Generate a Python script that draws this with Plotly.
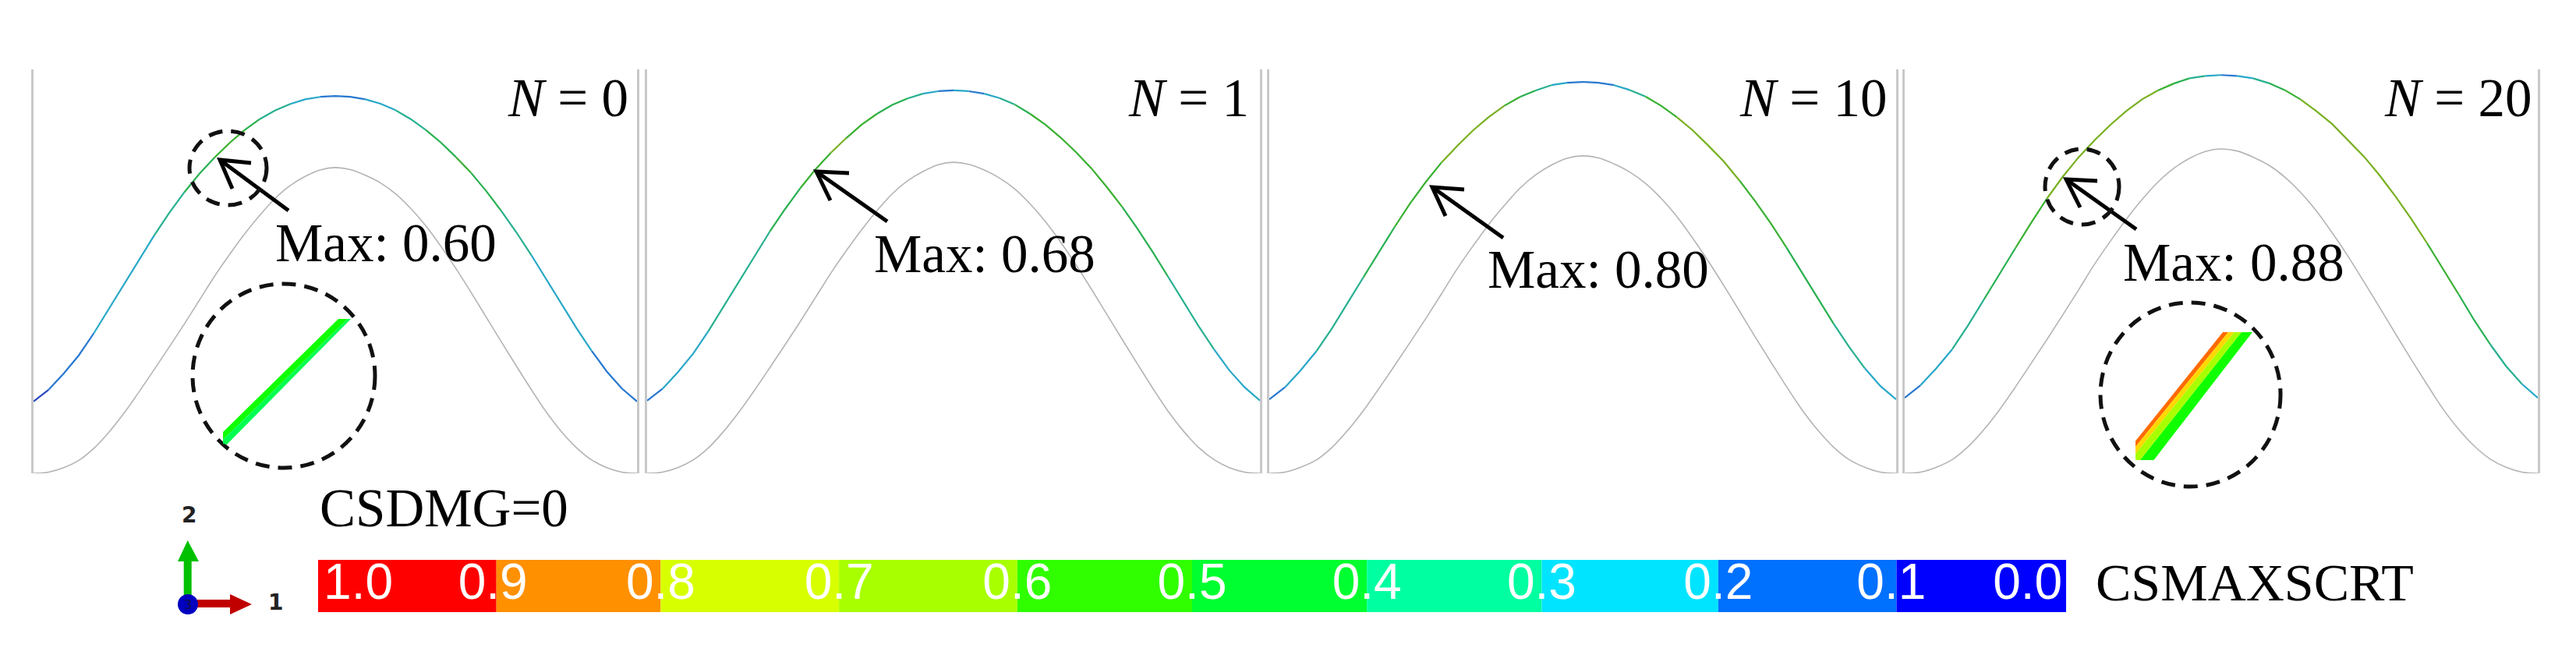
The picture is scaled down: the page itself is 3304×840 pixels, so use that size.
import plotly.graph_objects as go

W, H = 3304, 840

# position along the wave, percent of the panel width
x_pos = [0, 2.5, 5, 7.5, 10, 12.5, 15, 17.5, 20, 22.5, 25, 27.5, 30, 32.5, 35, 37.5, 40, 42.5, 45, 47.5, 50,
         52.5, 55, 57.5, 60, 62.5, 65, 67.5, 70, 72.5, 75, 77.5, 80, 82.5, 85, 87.5, 90, 92.5, 95, 97.5, 100]

# upper surface, percent of the panel height
upper_n0 = [17.8, 20.7, 24.7, 29.2, 34.7, 40.8, 46.8, 52.9, 58.9, 64.5, 69.6, 74.2, 78.2, 81.8, 85.0, 87.7, 89.8, 91.4, 92.6, 93.2, 93.4,
            93.2, 92.6, 91.5, 89.9, 87.7, 85.0, 81.9, 78.3, 74.4, 69.9, 65.0, 59.7, 54.0, 48.0, 42.0, 35.9, 30.3, 25.2, 21.0, 17.8]
upper_n1 = [18, 20.9, 25.0, 29.6, 35.2, 41.4, 47.5, 53.7, 59.8, 65.4, 70.6, 75.3, 79.4, 83.0, 86.3, 89.0, 91.2, 92.8, 94.0, 94.6, 94.8,
            94.6, 94.0, 92.9, 91.3, 89.0, 86.3, 83.1, 79.5, 75.5, 70.9, 66.0, 60.6, 54.8, 48.7, 42.6, 36.4, 30.7, 25.5, 21.3, 18]
upper_n10 = [18.3, 21.3, 25.5, 30.2, 35.9, 42.2, 48.5, 54.8, 61.0, 66.9, 72.2, 77.0, 81.1, 84.9, 88.2, 91.0, 93.2, 94.8, 96.1, 96.7, 96.9,
             96.7, 96.1, 94.9, 93.3, 91.0, 88.2, 85.0, 81.2, 77.2, 72.5, 67.4, 61.9, 55.9, 49.7, 43.5, 37.1, 31.3, 26.0, 21.6, 18.3]
upper_n20 = [18.7, 21.8, 26.0, 30.7, 36.6, 43.0, 49.4, 55.8, 62.1, 68.1, 73.5, 78.3, 82.5, 86.3, 89.7, 92.6, 94.8, 96.5, 97.8, 98.4, 98.6,
             98.4, 97.8, 96.6, 94.9, 92.6, 89.7, 86.5, 82.6, 78.5, 73.8, 68.6, 63.0, 57.0, 50.6, 44.3, 37.8, 31.9, 26.5, 22.1, 18.7]

# lower surface
lower_n0 = [0, .3, 1.4, 3.2, 6.2, 10.2, 14.9, 20.2, 25.7, 31.3, 37.0, 42.9, 48.8, 54.2, 59.3, 63.9, 68.0, 71.2, 73.5, 75.1, 75.7,
            75.2, 73.8, 71.9, 69.2, 65.6, 61.3, 56.2, 50.7, 44.8, 38.7, 32.6, 26.6, 20.7, 15.1, 10.3, 6.3, 3.3, 1.4, .3, 0]
lower_n1 = [0, .3, 1.4, 3.3, 6.3, 10.4, 15.2, 20.5, 26.1, 31.8, 37.6, 43.6, 49.6, 55.1, 60.3, 65.0, 69.2, 72.4, 74.7, 76.4, 77.0,
            76.5, 75.1, 73.1, 70.4, 66.7, 62.3, 57.2, 51.6, 45.6, 39.4, 33.2, 27.1, 21.1, 15.4, 10.5, 6.4, 3.4, 1.4, .3, 0]
lower_n10 = [0, .3, 1.5, 3.3, 6.4, 10.6, 15.5, 21.0, 26.7, 32.5, 38.4, 44.5, 50.7, 56.3, 61.6, 66.3, 70.6, 73.9, 76.3, 78.0, 78.6,
             78.1, 76.6, 74.6, 71.8, 68.1, 63.6, 58.3, 52.6, 46.5, 40.2, 33.8, 27.6, 21.5, 15.7, 10.7, 6.5, 3.4, 1.5, .3, 0]
lower_n20 = [0, .3, 1.5, 3.4, 6.6, 10.8, 15.8, 21.4, 27.3, 33.2, 39.3, 45.5, 51.8, 57.5, 62.9, 67.8, 72.1, 75.5, 78.0, 79.7, 80.3,
             79.8, 78.3, 76.3, 73.4, 69.6, 65.0, 59.6, 53.8, 47.5, 41.1, 34.6, 28.2, 22.0, 16.0, 10.9, 6.7, 3.5, 1.5, .3, 0]

# CSMAXSCRT along the upper surface
scrt_n0 = [.05, .1, .15, .18, .2, .22, .25, .28, .32, .36, .4, .48, .55, .5, .45, .38, .3, .25, .2, .15, .12,
           .15, .2, .25, .32, .38, .45, .48, .5, .45, .4, .35, .3, .28, .25, .23, .22, .18, .15, .1, .05]
scrt_n1 = [.15, .22, .25, .28, .3, .32, .35, .38, .42, .46, .52, .58, .62, .58, .55, .48, .42, .32, .25, .18, .22,
           .18, .25, .3, .42, .5, .55, .57, .58, .54, .5, .46, .42, .4, .38, .35, .32, .28, .25, .22, .15]
scrt_n10 = [.15, .22, .25, .3, .35, .38, .42, .46, .5, .54, .58, .64, .68, .65, .62, .55, .48, .38, .25, .18, .12,
            .18, .25, .38, .5, .55, .6, .63, .65, .62, .58, .54, .5, .48, .45, .42, .38, .32, .28, .22, .15]
scrt_n20 = [.18, .22, .28, .32, .38, .42, .48, .53, .58, .62, .65, .67, .68, .66, .65, .6, .55, .42, .32, .2, .15,
            .2, .3, .42, .55, .6, .65, .67, .68, .66, .65, .62, .6, .56, .52, .47, .42, .35, .3, .25, .18]

panel_names = ["<i>N</i> = 0", "<i>N</i> = 1", "<i>N</i> = 10", "<i>N</i> = 20"]
max_labels = ["Max: 0.60", "Max: 0.68", "Max: 0.80", "Max: 0.88"]
upper = [upper_n0, upper_n1, upper_n10, upper_n20]
lower = [lower_n0, lower_n1, lower_n10, lower_n20]
scrt = [scrt_n0, scrt_n1, scrt_n10, scrt_n20]

# contour bands, 1.0 down to 0.0
band_edges = [1.0, .898, .804, .702, .6, .5, .4, .3, .199, .097, 0.0]
band_colors = ["#ff0000", "#ff9000", "#d8ff00", "#a8ff00", "#30ff00",
               "#00ff30", "#00ffa0", "#00e4ff", "#0070ff", "#0000ff"]
# the thin curve reads darker than the bar
line_colors = ["#c02020", "#c07820", "#a0b020", "#78b020", "#38b030",
               "#28b050", "#28b090", "#28a8c8", "#2878d0", "#2848c0"]
band_labels = ["1.0", "0.9", "0.8", "0.7", "0.6", "0.5", "0.4", "0.3", "0.2", "0.1", "0.0"]
label_pos = [.977, .9, .804, .702, .6, .5, .4, .3, .199, .1, .022]

# panel frames in pixels
frames = [(43, 817), (830, 1616), (1628, 2432), (2443, 3255)]
TOP, BOTTOM = 89, 607
SERIF = "Liberation Serif"


def fx(x):
    return x / W


def fy(y):
    return 1 - y / H


def path(points, close=False):
    d = "M " + " L ".join(f"{fx(x):.5f},{fy(y):.5f}" for x, y in points)
    return d + " Z" if close else d


def line_color(v):
    for i in range(len(line_colors)):
        if v >= band_edges[i + 1]:
            return line_colors[i]
    return line_colors[-1]


fig = go.Figure()
layout = dict(
    width=W, height=H, margin=dict(l=0, r=0, t=0, b=0),
    paper_bgcolor="white", plot_bgcolor="rgba(0,0,0,0)", showlegend=False,
)
annotations = []
shapes = []

for p, (left, right) in enumerate(frames):
    ax = "" if p == 0 else str(p + 1)
    layout["xaxis" + ax] = dict(domain=[fx(left), fx(right)], range=[0, 100], visible=False, anchor="y" + ax)
    layout["yaxis" + ax] = dict(domain=[fy(BOTTOM), fy(TOP)], range=[0, 100], anchor="x" + ax,
                                showline=True, mirror=True, linecolor="#c8c8c8", linewidth=3,
                                ticks="", showticklabels=False, showgrid=False, zeroline=False)
    fig.add_trace(go.Scatter(x=x_pos, y=lower[p], mode="lines", xaxis="x" + ax, yaxis="y" + ax, cliponaxis=False,
                             line=dict(color="#b4b4b4", width=1.6, shape="spline", smoothing=1.0)))
    # upper surface, one trace per run of the same contour band
    start = 0
    for i in range(1, len(x_pos)):
        col = line_color(scrt[p][start])
        if i == len(x_pos) - 1 or line_color(scrt[p][i]) != col:
            fig.add_trace(go.Scatter(x=x_pos[start:i + 1], y=upper[p][start:i + 1], mode="lines",
                                     xaxis="x" + ax, yaxis="y" + ax, cliponaxis=False,
                                     line=dict(color=col, width=2.2)))
            start = i

# legend bar
layout["xaxis5"] = dict(domain=[fx(408), fx(2650)], range=[1, 0], visible=False, anchor="y5")
layout["yaxis5"] = dict(domain=[fy(785), fy(718)], range=[0, 1], visible=False, anchor="x5")
fig.add_trace(go.Bar(
    y=[0.5] * len(band_colors), x=[band_edges[i] - band_edges[i + 1] for i in range(len(band_colors))],
    base=band_edges[1:], orientation="h", width=1, xaxis="x5", yaxis="y5",
    marker=dict(color=band_colors, line=dict(width=0)),
))
fig.add_trace(go.Scatter(
    x=label_pos, y=[0.5] * len(label_pos), text=band_labels, mode="text", xaxis="x5", yaxis="y5",
    cliponaxis=False, textfont=dict(family="Liberation Sans", size=64, color="white"),
))


def label(x, y, text, size, anchor="left", family=SERIF, color="black"):
    annotations.append(dict(xref="paper", yref="paper", x=fx(x), y=fy(y), text=text, showarrow=False,
                            xanchor=anchor, yanchor="middle",
                            font=dict(family=family, size=size, color=color)))


for name, x in zip(panel_names, [808, 1604, 2422, 3249]):
    label(x, 126, name, 69, anchor="right")
for text, x, y in zip(max_labels, [351, 1119, 1906, 2721], [312, 326, 346, 337]):
    label(x, y, text, 69)
label(408, 652, "CSDMG=0", 69)
label(2686, 747, "CSMAXSCRT", 68)

# leader arrows: tail, tip, barbs
arrows = [((370, 270), (282, 205), (322, 209), (298, 242)),
          ((1138, 284), (1047, 220), (1089, 222), (1065, 257)),
          ((1928, 305), (1837, 240), (1878, 243), (1854, 277)),
          ((2740, 294), (2650, 230), (2690, 232), (2668, 266))]
for tail, tip, b1, b2 in arrows:
    shapes.append(dict(type="path", xref="paper", yref="paper", path=path([tail, tip]),
                       line=dict(color="black", width=5)))
    shapes.append(dict(type="path", xref="paper", yref="paper", path=path([b1, tip, b2]),
                       line=dict(color="black", width=5)))

# dashed circles
for x0, x1, y0, y1 in [(243, 342, 168, 263), (247, 481, 364, 600), (2623, 2718, 191, 288), (2694, 2925, 388, 624)]:
    shapes.append(dict(type="circle", xref="paper", yref="paper", x0=fx(x0), x1=fx(x1), y0=fy(y0), y1=fy(y1),
                       line=dict(color="#111111", width=5, dash="18px,11px")))

# zoomed through-thickness strips
strips = [
    ("#10ff00", [(434, 409), (446, 409), (286, 564), (286, 554)]),
    ("#00ff50", [(446, 409), (450, 409), (291, 570), (286, 569), (286, 564)]),
    ("#ff6a00", [(2851, 426), (2858, 426), (2739, 573), (2739, 565.6)]),
    ("#ffd800", [(2858, 426), (2865.5, 426), (2739, 582), (2739, 573)]),
    ("#a8ff00", [(2865.5, 426), (2875, 426), (2745, 590), (2739, 590), (2739, 582)]),
    ("#10ff00", [(2875, 426), (2889, 426), (2762.5, 590), (2745, 590)]),
]
for col, pts in strips:
    shapes.append(dict(type="path", xref="paper", yref="paper", path=path(pts, close=True),
                       fillcolor=col, line=dict(width=0)))

# triad
triad = [
    ("#00c000", [(235.7, 773), (235.7, 720), (228, 720), (240.7, 693), (255, 720), (245.7, 720), (245.7, 773)]),
    ("#c00000", [(253, 769), (295, 769), (295, 762), (323, 775), (295, 788), (295, 779), (253, 779)]),
]
for col, pts in triad:
    shapes.append(dict(type="path", xref="paper", yref="paper", path=path(pts, close=True),
                       fillcolor=col, line=dict(width=0)))
shapes.append(dict(type="circle", xref="paper", yref="paper", x0=fx(228), x1=fx(254), y0=fy(762), y1=fy(788),
                   fillcolor="#0000c0", line=dict(width=0)))
label(242, 660, "<b>2</b>", 28, anchor="center", family="DejaVu Sans", color="#222222")
label(353, 772, "<b>1</b>", 28, anchor="center", family="DejaVu Sans", color="#222222")
label(241, 775, "3", 16, anchor="center", family="DejaVu Sans", color="#101040")

layout["annotations"] = annotations
layout["shapes"] = shapes
fig.update_layout(**layout)

# browser default body margin would shift the whole page
fig.write_html("out.html", config=dict(displayModeBar=False), post_script="document.body.style.margin='0';")
